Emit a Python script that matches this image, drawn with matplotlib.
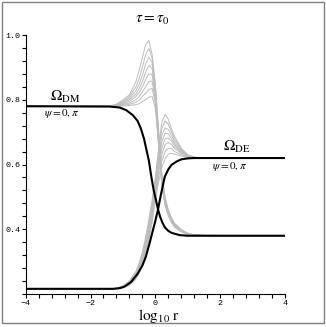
import numpy as np
import matplotlib
matplotlib.use('Agg')
import matplotlib.pyplot as plt
from matplotlib.patches import Rectangle

plt.rcParams['mathtext.fontset'] = 'stix'
plt.rcParams['font.family'] = ['Liberation Serif', 'DejaVu Serif']

# black curves (final state)
x_dm = [-4, -1.4, -1.1, -0.9, -0.7, -0.55, -0.45, -0.35, -0.28, -0.2, -0.12, -0.05,
        0.02, 0.08, 0.15, 0.22, 0.3, 0.4, 0.5, 0.6, 0.75, 1.0, 4]
y_dm = [.78, .779, .776, .768, .753, .735, .712, .68, .648, .612, .56, .52,
        .49, .462, .438, .42, .405, .395, .389, .386, .382, .38, .38]

x_de = [-4, -1.3, -1.1, -0.95, -0.75, -0.55, -0.4, -0.3, -0.18, -0.08, 0.0, 0.08,
        0.18, 0.29, 0.4, 0.5, 0.65, 0.8, 1.0, 1.2, 4]
y_de = [.216, .216, .218, .223, .237, .262, .288, .313, .356, .395, .426, .46,
        .511, .562, .585, .599, .609, .616, .619, .62, .62]

# grey curves (intermediate states), common x grid
xg = [-4.0, -1.4, -1.2, -1.0, -0.8, -0.6, -0.5, -0.4, -0.3, -0.2, -0.1, 0.0,
      0.1, 0.2, 0.3, 0.4, 0.5, 0.6, 0.8, 1.0, 1.2, 1.5, 4.0]

dm_grey = [
    [.78, .781, .786, .80, .815, .856, .89, .93, .97, .983, .94, .85, .71, .57, .50, .46, .435, .418, .399, .388, .383, .381, .38],
    [.78, .781, .785, .795, .81, .84, .865, .90, .94, .958, .93, .84, .70, .565, .495, .455, .432, .416, .398, .387, .383, .381, .38],
    [.78, .781, .784, .792, .805, .828, .848, .875, .91, .932, .915, .83, .69, .56, .49, .452, .43, .414, .397, .386, .382, .381, .38],
    [.78, .781, .783, .79, .80, .818, .834, .856, .885, .906, .897, .82, .68, .555, .487, .45, .428, .413, .396, .386, .382, .381, .38],
    [.78, .78, .782, .787, .795, .81, .822, .84, .862, .88, .878, .81, .675, .55, .484, .448, .426, .412, .395, .385, .382, .381, .38],
    [.78, .78, .782, .785, .79, .80, .81, .824, .84, .856, .858, .80, .67, .545, .48, .446, .424, .41, .394, .385, .382, .38, .38],
    [.78, .78, .781, .783, .786, .792, .799, .81, .82, .832, .835, .79, .665, .54, .477, .444, .422, .408, .393, .385, .381, .38, .38],
    [.78, .78, .78, .781, .782, .785, .788, .795, .80, .808, .81, .775, .66, .535, .474, .442, .42, .406, .392, .384, .381, .38, .38],
]

de_grey = [
    [.216, .216, .218, .225, .24, .27, .295, .33, .375, .43, .49, .56, .65, .73, .755, .74, .71, .685, .65, .63, .623, .621, .62],
    [.216, .216, .218, .224, .238, .266, .29, .323, .366, .42, .48, .55, .635, .71, .735, .725, .70, .678, .647, .629, .622, .621, .62],
    [.216, .216, .217, .223, .236, .262, .285, .316, .358, .41, .47, .54, .62, .69, .713, .708, .69, .67, .643, .628, .622, .62, .62],
    [.216, .216, .217, .222, .234, .258, .28, .31, .35, .40, .46, .53, .605, .67, .697, .695, .68, .663, .64, .627, .621, .62, .62],
    [.216, .216, .217, .221, .232, .255, .276, .304, .343, .392, .45, .52, .59, .65, .68, .682, .672, .657, .637, .626, .621, .62, .62],
    [.216, .216, .217, .22, .23, .252, .272, .299, .336, .384, .44, .51, .575, .63, .662, .668, .662, .65, .634, .625, .621, .62, .62],
    [.216, .216, .217, .22, .228, .249, .268, .294, .33, .376, .43, .50, .56, .61, .64, .65, .648, .64, .63, .624, .621, .62, .62],
    [.216, .216, .217, .219, .227, .246, .264, .29, .324, .368, .42, .49, .545, .59, .618, .632, .635, .632, .626, .622, .62, .62, .62],
]

fig = plt.figure(figsize=(3.26, 3.27), dpi=100)
ax = fig.add_axes([0.0788, 0.1009, 0.7954, 0.792])

for yy in dm_grey:
    ax.plot(xg, yy, color='#bcbcbc', lw=0.7)
for yy in de_grey:
    ax.plot(xg, yy, color='#bcbcbc', lw=0.7)

ax.plot(x_dm, y_dm, color='black', lw=1.5)
ax.plot(x_de, y_de, color='black', lw=1.5)

ax.set_xlim(-4, 4)
ax.set_ylim(0.2, 1.0)
ax.spines['top'].set_visible(False)
ax.spines['right'].set_visible(False)
ax.set_xticks([-4, -2, 0, 2, 4])
ax.set_xticks(np.arange(-4, 4.01, 0.4), minor=True)
ax.set_yticks([0.4, 0.6, 0.8, 1.0])
ax.set_yticks(np.arange(0.2, 1.001, 0.04), minor=True)
ax.tick_params(which='both', direction='out', length=3, width=0.8)
ax.tick_params(axis='x', pad=1)
ax.tick_params(axis='y', pad=1)
for lab in ax.get_xticklabels() + ax.get_yticklabels():
    lab.set_family('Liberation Mono')
    lab.set_fontsize(6)

ax.text(-0.11, 1.044, r'$\tau = \tau_0$', fontsize=11, ha='center', va='center', clip_on=False)
ax.text(0.1, 0.159, r'$\log_{10}\,\mathrm{r}$', fontsize=11, ha='center', va='top', clip_on=False)

ax.text(-2.77, 0.809, r'$\Omega_{\rm DM}$', fontsize=11, ha='center', va='center')
ax.text(-2.89, 0.758, r'$\psi = 0, \pi$', fontsize=8, ha='center', va='center')
ax.text(2.51, 0.654, r'$\Omega_{\rm DE}$', fontsize=11, ha='center', va='center')
ax.text(2.29, 0.594, r'$\psi = 0, \pi$', fontsize=8, ha='center', va='center')

fig.patches.append(Rectangle((1.5 / 326, 4 / 327), 322.5 / 326, 321.5 / 327,
                             transform=fig.transFigure, fill=False,
                             edgecolor='#808080', lw=1))

fig.savefig('out.png', dpi=100)
